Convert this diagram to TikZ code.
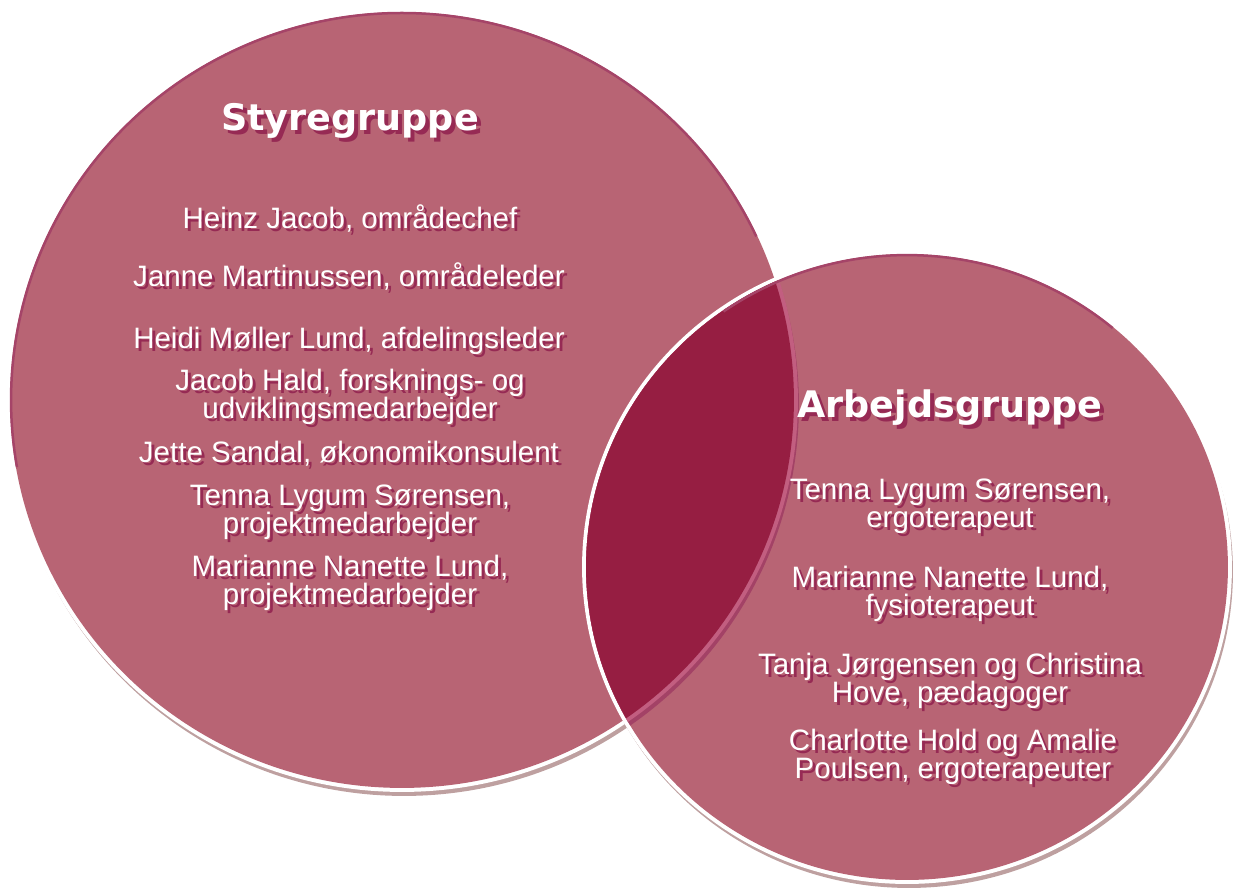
\documentclass[tikz,border=0pt]{standalone}
\usepackage{fontspec}
\setmainfont{Liberation Sans}
\newfontfamily\titlefont{DejaVu Sans}
\usepackage{tikz}

\definecolor{vennfill}{RGB}{184,100,116}
\definecolor{venndark}{RGB}{150,30,66}
\definecolor{vennedge}{RGB}{165,68,104}
\definecolor{vennshadow}{RGB}{190,160,160}
\definecolor{ringlight}{RGB}{194,94,128}
\definecolor{ringdark}{RGB}{163,66,102}
\definecolor{txtshadow}{RGB}{150,42,84}

% text with a dark copy behind it
\newcommand{\vennlabel}[4]{%
  \node[#2shadow] (#1-sh) at (#3) {#4};
  \node[#2] (#1) at (#3) {#4};
}

\begin{document}
\begin{tikzpicture}[
  x=0.02cm, y=-0.02cm,
  title/.style={font=\titlefont\fontsize{20.8}{24}\selectfont\bfseries,
                text=white,inner sep=0pt,align=center},
  member/.style={font=\fontsize{16.8}{15.8}\selectfont,
                 text=white,inner sep=0pt,align=center},
  titleshadow/.style={title,text=txtshadow,xshift=0.08cm,yshift=-0.08cm},
  membershadow/.style={member,text=txtshadow,xshift=0.06cm,yshift=-0.06cm}
]
\useasboundingbox (0,0) rectangle (1241,894);
\coordinate (lc) at (402,400);
\coordinate (rc) at (907,567);

% Styregruppe circle
\fill[vennshadow] ([shift={(2,5)}]lc) ellipse[x radius=7.90cm,y radius=7.82cm];
\fill[white] (lc) ellipse[x radius=7.92cm,y radius=7.84cm];
\fill[vennfill] (lc) ellipse[x radius=7.84cm,y radius=7.76cm];
\draw[vennedge,line width=0.05cm] (lc) ++(25:7.82cm and 7.74cm)
  arc[start angle=25,end angle=190,x radius=7.82cm,y radius=7.74cm];

% Arbejdsgruppe circle
\fill[vennshadow] ([shift={(2,5)}]rc) ellipse[x radius=6.48cm,y radius=6.32cm];
\fill[white] (rc) ellipse[x radius=6.50cm,y radius=6.34cm];
\fill[vennfill] (rc) ellipse[x radius=6.42cm,y radius=6.26cm];
\begin{scope}
  \clip (rc) ellipse[x radius=6.42cm,y radius=6.26cm];
  \fill[ringdark] ([shift={(2,5)}]lc) ellipse[x radius=7.90cm,y radius=7.82cm];
  \fill[ringlight] (lc) ellipse[x radius=7.92cm,y radius=7.84cm];
  \fill[venndark] (lc) ellipse[x radius=7.84cm,y radius=7.76cm];
\end{scope}
\draw[vennedge,line width=0.05cm] (rc) ++(50:6.40cm and 6.24cm)
  arc[start angle=50,end angle=125,x radius=6.40cm,y radius=6.24cm];

% left texts
\vennlabel{sty}{title}{350,121}{Styregruppe}
\vennlabel{heinz}{member}{350,218}{Heinz Jacob, områdechef}
\vennlabel{janne}{member}{349,276}{Janne Martinussen, områdeleder}
\vennlabel{heidi}{member}{349,341}{Heidi Møller Lund, afdelingsleder}
\vennlabel{jacob}{member}{350,397}{Jacob Hald, forsknings- og\\udviklingsmedarbejder}
\vennlabel{jette}{member}{349,454}{Jette Sandal, økonomikonsulent}
\vennlabel{tennaL}{member}{350,512}{Tenna Lygum Sørensen,\\projektmedarbejder}
\vennlabel{marianneL}{member}{350,583}{Marianne Nanette Lund,\\projektmedarbejder}

% right texts
\vennlabel{arb}{title}{950,408}{Arbejdsgruppe}
\vennlabel{tennaR}{member}{950,506}{Tenna Lygum Sørensen,\\ergoterapeut}
\vennlabel{marianneR}{member}{950,594}{Marianne Nanette Lund,\\fysioterapeut}
\vennlabel{tanja}{member}{950,681}{Tanja Jørgensen og Christina\\Hove, pædagoger}
\vennlabel{charlotte}{member}{953,757}{Charlotte Hold og Amalie\\Poulsen, ergoterapeuter}
\end{tikzpicture}
\end{document}
